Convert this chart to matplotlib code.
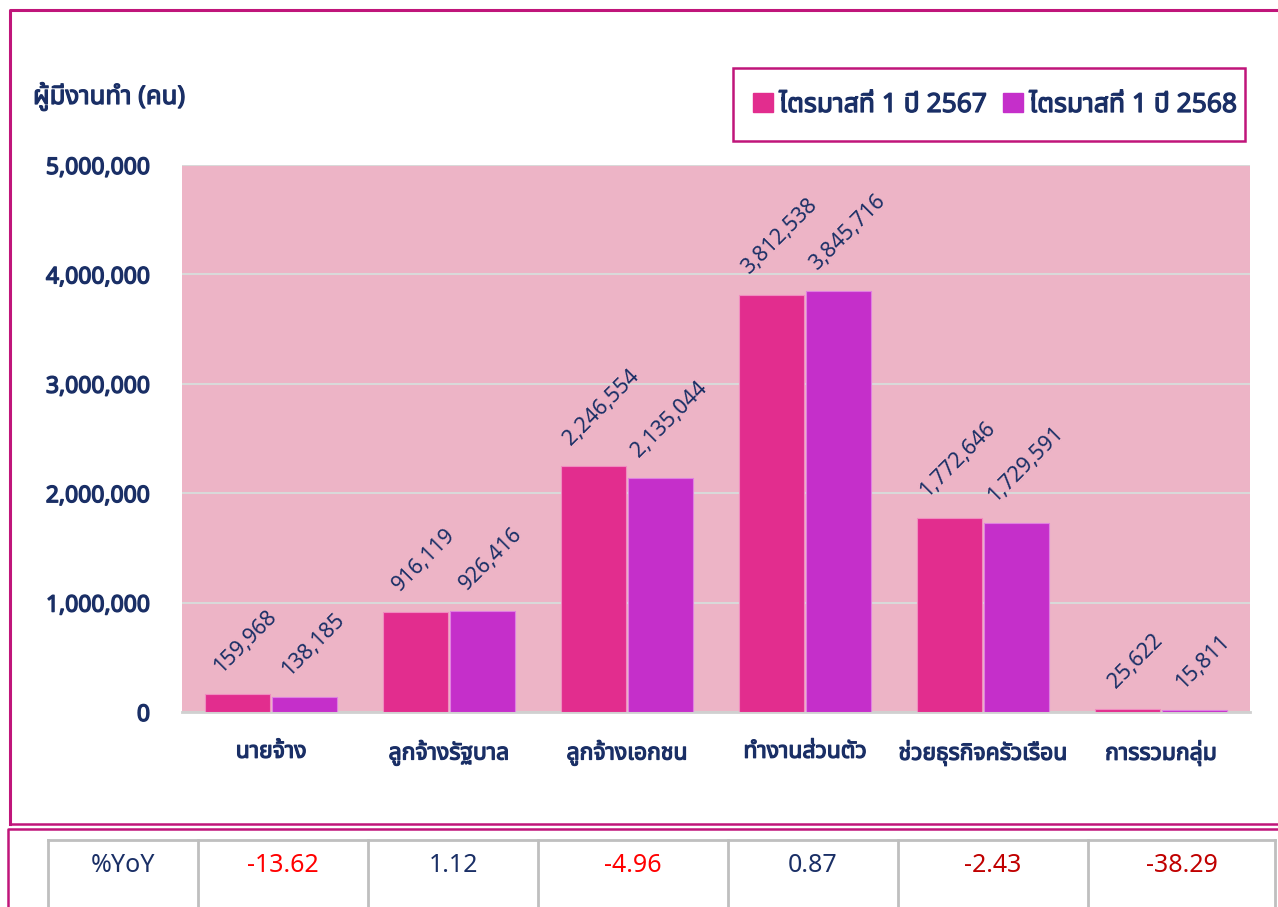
import matplotlib
matplotlib.use("Agg")
import matplotlib.pyplot as plt
from matplotlib import font_manager as fm
from matplotlib.ft2font import FT2Font
from matplotlib.patches import Rectangle
from matplotlib.lines import Line2D
import matplotlib.patheffects as pe
import numpy as np

categories = ["นายจ้าง", "ลูกจ้างรัฐบาล", "ลูกจ้างเอกชน", "ทำงานส่วนตัว", "ช่วยธุรกิจครัวเรือน", "การรวมกลุ่ม"]
series_names = ["ไตรมาสที่ 1 ปี 2567", "ไตรมาสที่ 1 ปี 2568"]
q1_2567 = [159968, 916119, 2246554, 3812538, 1772646, 25622]
q1_2568 = [138185, 926416, 2135044, 3845716, 1729591, 15811]
yoy = [-13.62, 1.12, -4.96, 0.87, -2.43, -38.29]
yticks = [0, 1000000, 2000000, 3000000, 4000000, 5000000]
y_title = "ผู้มีงานทำ (คน)"
row_title = "%YoY"

# find a font family that covers Thai
thai_family = None
prefs = ["Tahoma", "Noto Sans Thai", "Noto Sans Thai UI", "Loma", "Garuda", "Sarabun", "Noto Serif Thai"]
found = {}
for f in fm.fontManager.ttflist:
    try:
        cm = FT2Font(f.fname).get_charmap()
    except Exception:
        continue
    if 0x0E01 in cm and 0x0E32 in cm and 0x0E48 in cm:
        found.setdefault(f.name, []).append(f.fname)
for p in prefs:
    if p in found:
        thai_family = p
        break
if thai_family is None and found:
    thai_family = sorted(found.keys())[0]
fams = ([thai_family] if thai_family else []) + ["DejaVu Sans"]
plt.rcParams["font.family"] = fams

NAVY = "#1a2f66"
MAG = "#c0157a"
C1 = "#e22d8e"
C2 = "#c52fca"
BG = "#edb4c6"

def bold_fx(color, w=0.9):
    return [pe.withStroke(linewidth=w, foreground=color)]

W, H = 1278, 907
fig = plt.figure(figsize=(W / 100, H / 100), dpi=100)

def fx(px):
    return px / W

def fy(py):
    return 1 - py / H

ax = fig.add_axes([fx(182), fy(712), fx(1250) - fx(182), fy(165) - fy(712)])
ax.set_facecolor(BG)
x = np.arange(len(categories))
bw = 0.365
off = 0.19
b1 = ax.bar(x - off, q1_2567, bw, color=C1, edgecolor="#f08cc0", linewidth=0.8, zorder=3)
b2 = ax.bar(x + off, q1_2568, bw, color=C2, edgecolor="#e080e0", linewidth=0.8, zorder=3)
ax.set_xlim(-0.5, len(categories) - 0.5)
ax.set_ylim(0, 5000000)
ax.set_yticks(yticks)
ax.set_yticklabels([f"{v:,}" for v in yticks], fontsize=16.5, color=NAVY)
for t in ax.get_yticklabels():
    t.set_path_effects(bold_fx(NAVY, 1.0))
ax.set_xticks(x)
ax.set_xticklabels(categories, fontsize=16.5, color=NAVY)
for t in ax.get_xticklabels():
    t.set_path_effects(bold_fx(NAVY))
ax.tick_params(axis="y", length=0, pad=23)
ax.tick_params(axis="x", length=0, pad=20)
ax.grid(axis="y", color="#d9d9d9", linewidth=1.5, zorder=1)
ax.set_axisbelow(True)
for s in ["top", "right", "left"]:
    ax.spines[s].set_visible(False)
ax.spines["bottom"].set_color("#d0d0d0")
ax.spines["bottom"].set_linewidth(2)

for bars, vals in ((b1, q1_2567), (b2, q1_2568)):
    for r, v in zip(bars, vals):
        ax.annotate(f"{v:,}", (r.get_x() + r.get_width() / 2, v), xytext=(6, 12),
                    textcoords="offset points", rotation=45, ha="center", va="bottom",
                    fontsize=15.5, color=NAVY, zorder=5)

# y title
fig.text(fx(33), fy(97), y_title, fontsize=18.5, color=NAVY, ha="left", va="center",
         path_effects=bold_fx(NAVY))

# legend box
fig.patches.append(Rectangle((fx(733), fy(141)), fx(1245) - fx(733), fy(68) - fy(141),
                             transform=fig.transFigure, fill=False, edgecolor=MAG, linewidth=1.8))
handles = [Rectangle((0, 0), 1, 1, color=C1), Rectangle((0, 0), 1, 1, color=C2)]
leg = fig.legend(handles, series_names, loc="center", bbox_to_anchor=(fx(995), fy(105)),
                 ncol=2, frameon=False, prop={"size": 19},
                 handlelength=0.75, handleheight=0.75, handletextpad=0.25, columnspacing=0.6)
for t in leg.get_texts():
    t.set_color(NAVY)
    t.set_path_effects(bold_fx(NAVY))

# outer frames
def fline(xs, ys, **kw):
    fig.add_artist(Line2D([fx(v) for v in xs], [fy(v) for v in ys], transform=fig.transFigure, **kw))

fline([10, 10, W], [824, 10, 10], color=MAG, linewidth=2.2)
fline([10, W], [824, 824], color=MAG, linewidth=1.8)
fline([W, 8, 8], [829, 829, H], color=MAG, linewidth=1.8)

# table
col_edges = [48, 198, 368, 538, 728, 898, 1088, 1275]
GRAY = "#bfbfbf"
fline([48, 1275], [840, 840], color=GRAY, linewidth=2)
for e in col_edges:
    fline([e, e], [840, H], color=GRAY, linewidth=2)
cells = [row_title] + [f"{v:.2f}" for v in yoy]
colors = [NAVY]
for i, v in enumerate(yoy):
    if v >= 0:
        colors.append(NAVY)
    else:
        colors.append("#ff0000" if i in (0, 2) else "#c00000")
for i, (txt, c) in enumerate(zip(cells, colors)):
    cx = (col_edges[i] + col_edges[i + 1]) / 2
    fig.text(fx(cx), fy(866), txt, ha="center", va="center", fontsize=18, color=c)

fig.savefig("out.png", dpi=100)
